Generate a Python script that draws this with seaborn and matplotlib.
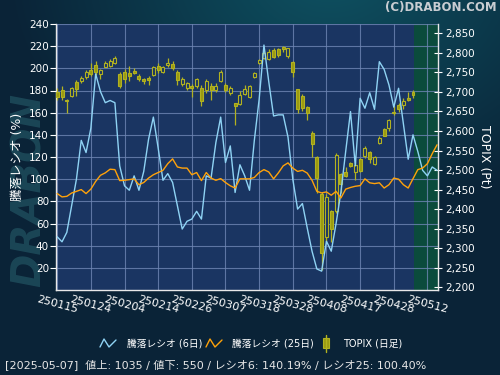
import numpy as np
import pandas as pd
import matplotlib
matplotlib.use("Agg")
import matplotlib.pyplot as plt
import seaborn as sns

# ---------------- data ----------------
dates = (
    ["250115", "250116", "250117", "250120", "250121", "250122", "250123", "250124",
     "250127", "250128", "250129", "250130", "250131"]
    + ["250203", "250204", "250205", "250206", "250207", "250210", "250212", "250213",
       "250214", "250217", "250218", "250219", "250220", "250221", "250225", "250226",
       "250227", "250228"]
    + ["250303", "250304", "250305", "250306", "250307", "250310", "250311", "250312",
       "250313", "250314", "250317", "250318", "250319", "250321", "250324", "250325",
       "250326", "250327", "250328", "250331"]
    + ["250401", "250402", "250403", "250404", "250407", "250408", "250409", "250410",
       "250411", "250414", "250415", "250416", "250417", "250418", "250421", "250422",
       "250423", "250424", "250425", "250428", "250430"]
    + ["250501", "250502", "250507", "250508", "250509", "250512", "250513", "250514"]
)

ratio6 = [48, 43.5, 52, 76, 100, 135, 124, 146, 195, 179, 169, 171, 169, 112, 94, 90,
          103, 90, 107, 136, 156, 128, 99, 105, 97, 76, 55, 62, 64, 71, 64, 103, 101,
          133, 156, 115, 130, 88, 113, 103, 90, 135, 172, 221, 188, 157, 158, 158, 138,
          100, 73, 78, 56, 35, 19, 17, 44, 35, 60, 88, 125, 161, 112, 173, 164, 178,
          163, 206, 199, 185, 165, 182, 150, 118, 140, 125, 108, 103, 111, 108]

ratio25 = [87, 84, 84.5, 87.5, 89, 90.6, 87, 91, 98, 103.5, 105.7, 109, 108.6, 98.7,
           99, 99.6, 100.3, 95, 97, 101, 104, 106, 108, 114, 118.3, 111, 110, 110, 104,
           106, 98.7, 106, 101, 99, 100.5, 97, 94, 92, 100.3, 100.3, 100.3, 101.5, 106,
           108.6, 106.5, 100.3, 105.7, 112, 114.7, 110, 107, 108, 105.5, 99, 89, 87.6,
           88.5, 85.5, 89, 83, 91, 92.5, 93.6, 94.2, 100.3, 96.7, 96, 96.7, 92, 95, 101,
           100, 95, 92, 100.4, 108.6, 110, 114, 123, 131]

topix_open = [2701, 2704, 2680, 2690, 2725, 2727, 2739, 2756, 2768, 2746, 2765, 2766,
              2774, 2746, 2752, 2748, 2754, 2741, 2733, 2737, 2744, 2766, 2751, 2768,
              2772, 2750, 2721, 2710, 2716, 2714, 2710, 2704, 2715, 2705, 2729, 2718,
              2698, 2671, 2669, 2695, 2688, 2738, 2773, 2787, 2784, 2808, 2809, 2816,
              2791, 2776, 2707, 2690, 2662, 2596, 2534, 2440, 2328, 2394, 2394, 2490,
              2496, 2518, 2496, 2528, 2535, 2547, 2516, 2570, 2605, 2608, 2649, 2666,
              2666, 2685, 2699]
topix_high = [2709, 2714, 2681, 2712, 2731, 2740, 2756, 2774, 2780, 2759, 2780, 2784,
              2793, 2750, 2758, 2766, 2761, 2746, 2737, 2741, 2767, 2773, 2767, 2786,
              2778, 2756, 2738, 2726, 2720, 2737, 2718, 2733, 2722, 2722, 2755, 2722,
              2714, 2673, 2703, 2718, 2718, 2751, 2785, 2806, 2810, 2812, 2812, 2818,
              2813, 2778, 2708, 2695, 2664, 2600, 2537, 2445, 2440, 2398, 2543, 2493,
              2509, 2521, 2522, 2530, 2561, 2550, 2535, 2587, 2609, 2630, 2663, 2672,
              2685, 2700, 2706]
topix_low = [2680, 2680, 2647, 2688, 2690, 2724, 2733, 2742, 2744, 2733, 2763, 2763,
             2771, 2710, 2722, 2729, 2745, 2729, 2721, 2718, 2741, 2748, 2748, 2765,
             2755, 2718, 2716, 2705, 2688, 2710, 2664, 2698, 2680, 2700, 2726, 2700,
             2692, 2616, 2666, 2692, 2684, 2736, 2771, 2785, 2783, 2788, 2790, 2803,
             2786, 2739, 2646, 2652, 2628, 2533, 2441, 2243, 2315, 2317, 2390, 2441,
             2483, 2508, 2475, 2494, 2531, 2518, 2514, 2566, 2587, 2600, 2640, 2649,
             2657, 2676, 2685]
topix_close = [2686, 2686, 2676, 2709, 2707, 2737, 2750, 2747, 2752, 2755, 2775, 2779,
               2786, 2716, 2733, 2741, 2748, 2733, 2727, 2730, 2764, 2755, 2763, 2775,
               2761, 2731, 2733, 2722, 2711, 2732, 2678, 2728, 2705, 2716, 2750, 2705,
               2711, 2665, 2692, 2707, 2714, 2748, 2782, 2799, 2803, 2789, 2795, 2810,
               2812, 2752, 2656, 2658, 2647, 2567, 2479, 2287, 2430, 2349, 2539, 2464,
               2486, 2511, 2513, 2497, 2557, 2528, 2533, 2583, 2588, 2627, 2645, 2657,
               2678, 2679, 2693]

ratio_ticks = [20, 40, 60, 80, 100, 120, 140, 160, 180, 200, 220, 240]
topix_ticks = [2200, 2250, 2300, 2350, 2400, 2450, 2500, 2550, 2600, 2650, 2700, 2750,
               2800, 2850]
tick_every = 7

# ---------------- style ----------------
sns.set_style("dark")
plt.rcParams["font.family"] = ["DejaVu Sans", "Noto Sans CJK JP"]

W, H = 500, 375
fig = plt.figure(figsize=(5, 3.75), dpi=100)

# gradient background
yy, xx = np.mgrid[0:H, 0:W]
teal = np.array([14, 82, 98]) / 255
navy = np.array([10, 35, 55]) / 255
d = np.sqrt(((xx - 330) / 1.3) ** 2 + (yy + 30) ** 2)
t = np.clip(d / 250, 0, 1)[..., None]
img = teal * (1 - t) + navy * t
bg = fig.add_axes([0, 0, 1, 1], zorder=-10)
bg.imshow(img, aspect="auto", extent=[0, 1, 0, 1], origin="upper")
bg.axis("off")

# watermark
fig.text(30 / W, 1 - 190 / H, "DRABON", rotation=90, ha="center", va="center",
         fontsize=29, fontweight="heavy", fontstyle="italic", color="#1b4656",
         zorder=-5)

n = len(dates)
idx = np.arange(n)
df = pd.DataFrame({"idx": idx, "r6": ratio6, "r25": ratio25})
nc = len(topix_open)
cidx = np.arange(nc)
o = np.array(topix_open); c = np.array(topix_close)
hi = np.array(topix_high); lo = np.array(topix_low)

ax = fig.add_axes([56 / W, 1 - 290 / H, (438 - 56) / W, (290 - 24) / H])
ax.set_facecolor("#1a3562")
ax.set_xlim(-0.25, 79.2)
ax.set_ylim(0, 240)
ax.axvspan(nc - 1 + 0.3, 80, color="#0b4b3c", zorder=0.1, lw=0)
ax.set_axisbelow(True)
ax.grid(True, color="#6f86b4", lw=0.8, alpha=0.8)

ax.set_yticks(ratio_ticks)
ax.set_yticklabels([str(v) for v in ratio_ticks])
xt = idx[::tick_every]
ax.set_xticks(xt)
ax.set_xticklabels([dates[i] for i in xt], rotation=-15, ha="center", va="top")
ax.tick_params(axis="y", colors="white", labelcolor="white", labelsize=7.5,
               direction="out", length=4, width=0.8, pad=1)
ax.tick_params(axis="x", colors="white", labelcolor="white", labelsize=8,
               direction="out", length=2, width=0.8, pad=1)
for s in ["top", "right"]:
    ax.spines[s].set_visible(False)
for s in ["left", "bottom"]:
    ax.spines[s].set_color("#e8e8e8")
    ax.spines[s].set_linewidth(1)
ax.set_xlabel("")
ax.set_ylabel("騰落レシオ (%)", color="white", fontsize=9, labelpad=4)

# TOPIX axis (on top)
ax2 = ax.twinx()
ax2.set_ylim(2193, 2874)
ax2.set_yticks(topix_ticks)
ax2.set_yticklabels([f"{v:,}" for v in topix_ticks])
ax2.tick_params(axis="y", colors="white", labelcolor="white", labelsize=7.5,
                direction="inout", length=6, width=0.8, pad=2)
for s in ["top", "left", "bottom"]:
    ax2.spines[s].set_visible(False)
ax2.spines["right"].set_color("#e8e8e8")
ax2.spines["right"].set_linewidth(1)
ax2.set_ylabel("TOPIX (Pt)", color="white", fontsize=9, rotation=270, labelpad=12)

cedge = "#b2b220"
cfill = "#9a9a12"
up = c >= o
ax2.vlines(cidx, lo, hi, color=cedge, lw=0.9, zorder=2)
ax2.bar(cidx[~up], (o - c)[~up], bottom=c[~up], width=0.62, color=cfill,
        edgecolor=cedge, lw=0.8, zorder=3)
ax2.bar(cidx[up], (c - o)[up], bottom=o[up], width=0.62, color="#1a3562",
        edgecolor=cedge, lw=0.8, zorder=3)

# ratio lines drawn on top, but in the ratio-axis coordinates
sns.lineplot(data=df, x="idx", y="r6", ax=ax2, color="#8fd3f4", lw=1.0, zorder=5)
sns.lineplot(data=df, x="idx", y="r25", ax=ax2, color="#ffa20a", lw=1.0, zorder=6)
for ln in ax2.get_lines():
    ln.set_transform(ax.transData)
ax2.set_ylim(2193, 2874)
ax.set_xlim(-0.25, 79.2)
ax2.set_xlabel("")

# header text
fig.text(497 / W, 1 - 8 / H, "(C)DRABON.COM", ha="right", va="center",
         fontsize=8.5, fontweight="bold", color="#c9cdd2")

# legend (manual)
lg = fig.add_axes([0, 0, 1, 1], zorder=5)
lg.set_xlim(0, W); lg.set_ylim(H, 0); lg.axis("off")
lg.plot([100, 104, 109, 116], [347, 339, 347, 340], color="#8fd3f4", lw=1)
lg.text(127, 344, "騰落レシオ (6日)", color="white", fontsize=7, va="center")
lg.plot([206, 210, 215, 222], [347, 339, 347, 340], color="#ffa20a", lw=1)
lg.text(232, 344, "騰落レシオ (25日)", color="white", fontsize=7, va="center")
lg.plot([326, 326], [335, 352], color=cedge, lw=1)
lg.add_patch(plt.Rectangle((323, 338), 6, 10, facecolor=cfill, edgecolor=cedge, lw=0.8))
lg.text(343, 344, "TOPIX (日足)", color="white", fontsize=7, va="center")

fig.text(5 / W, 1 - 365 / H,
         "[2025-05-07]  値上: 1035 / 値下: 550 / レシオ6: 140.19% / レシオ25: 100.40%",
         ha="left", va="center", fontsize=8.0, color="#e6e6e6")

fig.savefig("out.png", dpi=100)
